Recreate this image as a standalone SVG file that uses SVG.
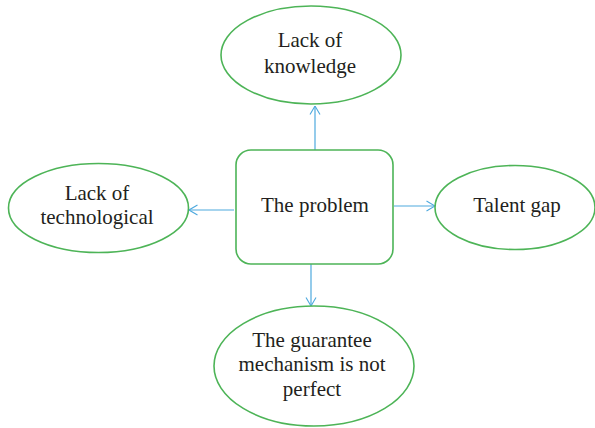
<svg xmlns="http://www.w3.org/2000/svg" width="595" height="428" viewBox="0 0 595 428">
  <defs>
    <marker id="arrow" viewBox="0 0 10 12" refX="9.5" refY="6" markerWidth="10" markerHeight="12" markerUnits="userSpaceOnUse" orient="auto">
      <path d="M1,1 L9.5,6 L1,11" fill="none" stroke="#4ea9de" stroke-width="1.1"/>
    </marker>
  </defs>
  <style>
    .node { fill: #ffffff; stroke: #4db457; stroke-width: 1.6; }
    .link { stroke: #4ea9de; stroke-width: 1.2; fill: none; marker-end: url(#arrow); }
    .label { font-family: "Liberation Serif", "Times New Roman", serif; font-size: 21px; fill: #231f20; text-anchor: middle; }
  </style>
  <rect width="595" height="428" fill="#ffffff"/>

  <g id="connectors">
    <line class="link" x1="315" y1="150" x2="315" y2="106"/>
    <line class="link" x1="234" y1="210" x2="189" y2="210"/>
    <line class="link" x1="394" y1="206" x2="435" y2="206"/>
    <line class="link" x1="311" y1="264" x2="311" y2="306"/>
  </g>

  <g id="problem">
    <rect class="node" x="236" y="150" width="157" height="114" rx="15" ry="15"/>
    <text class="label" x="315" y="212">The problem</text>
  </g>

  <g id="knowledge">
    <ellipse class="node" cx="311" cy="55" rx="90" ry="49"/>
    <text class="label" x="310" y="47">Lack of</text>
    <text class="label" x="310" y="73">knowledge</text>
  </g>

  <g id="technological">
    <ellipse class="node" cx="98.5" cy="208" rx="90" ry="44.5"/>
    <text class="label" x="97" y="200">Lack of</text>
    <text class="label" x="97" y="224">technological</text>
  </g>

  <g id="talent">
    <ellipse class="node" cx="515" cy="207.5" rx="80" ry="42"/>
    <text class="label" x="517" y="212">Talent gap</text>
  </g>

  <g id="guarantee">
    <ellipse class="node" cx="314" cy="366" rx="100" ry="60"/>
    <text class="label" x="312" y="347">The guarantee</text>
    <text class="label" x="312" y="371">mechanism is not</text>
    <text class="label" x="312" y="396">perfect</text>
  </g>
</svg>
